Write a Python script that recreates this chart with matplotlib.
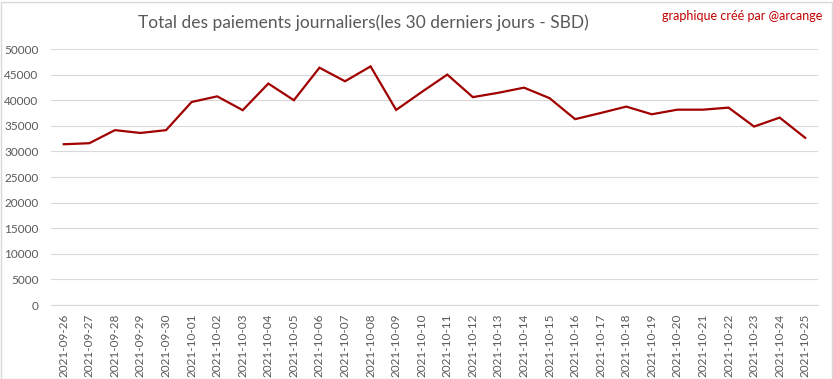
import matplotlib
matplotlib.use("Agg")
import matplotlib.pyplot as plt
from matplotlib.patches import Rectangle

dates = ["2021-09-26", "2021-09-27", "2021-09-28", "2021-09-29", "2021-09-30",
         "2021-10-01", "2021-10-02", "2021-10-03", "2021-10-04", "2021-10-05",
         "2021-10-06", "2021-10-07", "2021-10-08", "2021-10-09", "2021-10-10",
         "2021-10-11", "2021-10-12", "2021-10-13", "2021-10-14", "2021-10-15",
         "2021-10-16", "2021-10-17", "2021-10-18", "2021-10-19", "2021-10-20",
         "2021-10-21", "2021-10-22", "2021-10-23", "2021-10-24", "2021-10-25"]
payouts = [31400, 31600, 34150, 33600, 34150,
           39650, 40750, 38050, 43250, 40000,
           46350, 43700, 46600, 38100, 41600,
           45000, 40600, 41450, 42450, 40400,
           36300, 37500, 38750, 37250, 38150,
           38150, 38550, 34850, 36600, 32650]
yticks = [0, 5000, 10000, 15000, 20000, 25000, 30000, 35000, 40000, 45000, 50000]

title = "Total des paiements journaliers(les 30 derniers jours - SBD)"
credit = "graphique créé par @arcange"

plt.rcParams['font.family'] = ['Lato', 'DejaVu Sans']

W, H = 833, 379
fig = plt.figure(figsize=(W / 100, H / 100), dpi=100)
ax = fig.add_axes([51 / W, (H - 305) / H, (818 - 51) / W, (305 - 49) / H])

x = list(range(len(dates)))
ax.plot(x, payouts, color="#A00000", linewidth=1.6, solid_joinstyle="miter")

ax.set_xlim(-0.5, len(dates) - 0.5)
ax.set_ylim(0, 50000)
ax.set_yticks(yticks)
ax.set_yticklabels([str(v) for v in yticks])
ax.set_xticks(x)
ax.set_xticklabels(dates, rotation=90)
ax.tick_params(axis="both", length=0, colors="#595959", labelsize=8.5)
ax.tick_params(axis="y", pad=9)
ax.tick_params(axis="x", pad=6)
ax.grid(axis="y", color="#D9D9D9", linewidth=0.8)
ax.set_axisbelow(True)
for side in ["top", "right", "left"]:
    ax.spines[side].set_visible(False)
ax.spines["bottom"].set_color("#D9D9D9")
ax.spines["bottom"].set_linewidth(0.8)

fig.text(363 / W, (H - 23) / H, title, ha="center", va="center",
         fontsize=12.5, color="#595959", fontweight="normal")
fig.text(822 / W, (H - 16) / H, credit, ha="right", va="center",
         fontsize=9, color="#C00000")

fig.patches.append(Rectangle((0.5 / W, 0.5 / H), (W - 2) / W, (H - 2) / H,
                             transform=fig.transFigure, fill=False,
                             edgecolor="#D9D9D9", linewidth=1))

fig.savefig("out.png", dpi=100)
